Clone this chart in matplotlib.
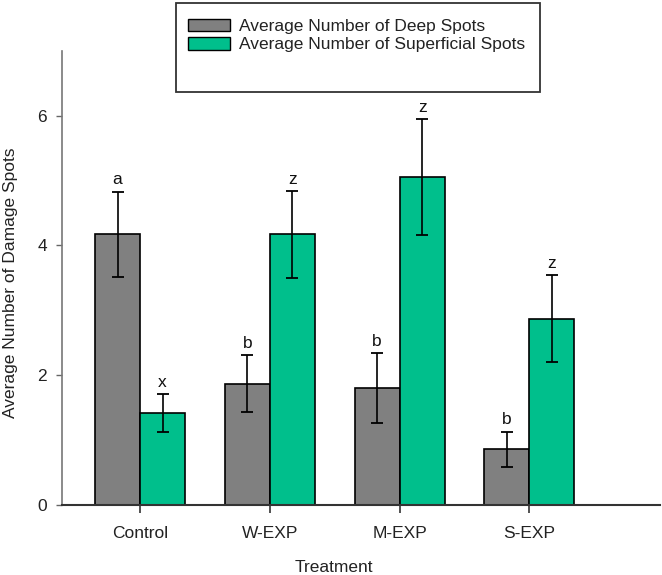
import matplotlib
matplotlib.use("Agg")
import matplotlib.pyplot as plt
import numpy as np
from matplotlib.patches import Patch, Rectangle

plt.rcParams['font.family'] = ['Liberation Sans', 'DejaVu Sans']

# ---- data ----
categories = ["Control", "W-EXP", "M-EXP", "S-EXP"]
deep = [4.17, 1.87, 1.80, 0.86]
deep_err = [0.66, 0.44, 0.54, 0.27]
superficial = [1.42, 4.17, 5.05, 2.87]
superficial_err = [0.29, 0.67, 0.89, 0.67]
deep_letters = ["a", "b", "b", "b"]
sup_letters = ["x", "z", "z", "z"]
series_names = ["Average Number of Deep Spots", "Average Number of Superficial Spots"]
yticks = [0, 2, 4, 6]

gray = "#808080"
green = "#00BF8C"
FS = 12.5

W, H = 662, 575
fig = plt.figure(figsize=(W / 100, H / 100), dpi=100)
left, right, bottom, top = 61.5, 660, 505, 50.7
ax = fig.add_axes([left / W, (H - bottom) / H, (right - left) / W, (bottom - top) / H])

x = np.arange(len(categories))
w = 0.347
ax.bar(x - w / 2, deep, w, color=gray, edgecolor="black", linewidth=1.2, zorder=2)
ax.bar(x + w / 2, superficial, w, color=green, edgecolor="black", linewidth=1.2, zorder=2)
ax.errorbar(x - w / 2, deep, yerr=deep_err, fmt="none", ecolor="black",
            elinewidth=1.2, capsize=4.6, capthick=1.3, zorder=3)
ax.errorbar(x + w / 2, superficial, yerr=superficial_err, fmt="none", ecolor="black",
            elinewidth=1.2, capsize=4.6, capthick=1.3, zorder=3)

for xi, v, e, t in zip(x - w / 2, deep, deep_err, deep_letters):
    ax.annotate(t, (xi, v + e), xytext=(0, 3), textcoords="offset points",
                ha="center", va="bottom", fontsize=FS, color="#111111")
for xi, v, e, t in zip(x + w / 2, superficial, superficial_err, sup_letters):
    ax.annotate(t, (xi, v + e), xytext=(0, 3), textcoords="offset points",
                ha="center", va="bottom", fontsize=FS, color="#111111")

ax.set_xlim(-0.605, 4.006)
ax.set_ylim(0, 7)
ax.set_xticks(x)
ax.set_xticklabels(categories)
ax.set_yticks(yticks)
ax.tick_params(axis="x", direction="out", length=5.8, width=1.2, pad=9,
               labelsize=FS, colors="#222222")
ax.tick_params(axis="y", direction="out", length=4.3, width=1.0, pad=6,
               labelsize=FS, colors="#222222")
ax.tick_params(axis="x", color="#333333")
ax.tick_params(axis="y", color="#666666")

for s in ["top", "right"]:
    ax.spines[s].set_visible(False)
ax.spines["left"].set_color("#777777")
ax.spines["left"].set_linewidth(1.2)
ax.spines["bottom"].set_color("#333333")
ax.spines["bottom"].set_linewidth(1.5)

ax.set_ylabel("Average Number of Damage Spots", fontsize=FS, color="#222222")
ax.yaxis.set_label_coords(-0.072, 0.489)
ax.set_xlabel("Treatment", fontsize=FS, color="#222222")
ax.xaxis.set_label_coords(0.455, -0.121)

# legend frame
fig.patches.append(Rectangle((176 / W, 1 - 92 / H), 364 / W, 89 / H,
                             transform=fig.transFigure, facecolor="white",
                             edgecolor="#333333", linewidth=1.3, zorder=5))
handles = [Patch(facecolor=gray, edgecolor="black", linewidth=1.0),
           Patch(facecolor=green, edgecolor="black", linewidth=1.0)]
leg = fig.legend(handles, series_names, loc="upper left",
                 bbox_to_anchor=(188 / W, 1 - 19 / H), frameon=False,
                 fontsize=FS, handlelength=2.41, handleheight=0.72,
                 handletextpad=0.52, labelspacing=0.17, borderpad=0,
                 borderaxespad=0)
leg.set_zorder(6)
for t in leg.get_texts():
    t.set_color("#222222")

fig.savefig("out.png", dpi=100)
